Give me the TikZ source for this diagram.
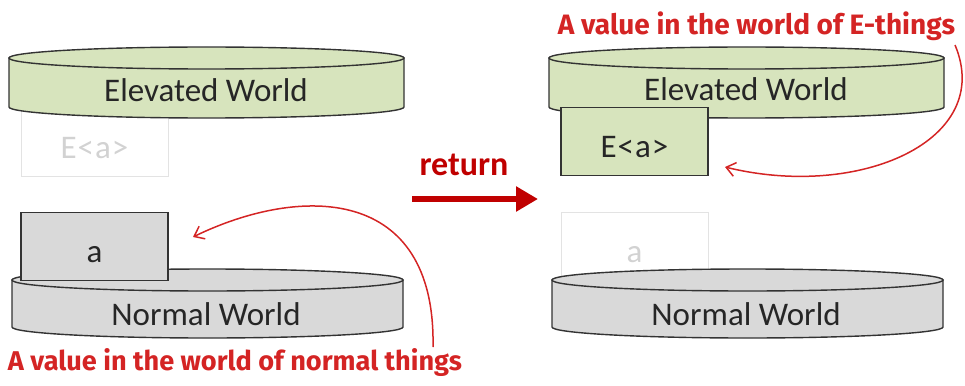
\documentclass[tikz,border=0pt]{standalone}
\usepackage{fontspec}
\setmainfont{Carlito}
\newfontfamily\handfont{Fira Sans}
\usetikzlibrary{arrows.meta}
\definecolor{elev}{HTML}{D7E4BD}
\definecolor{norm}{HTML}{D9D9D9}
\definecolor{edgecol}{HTML}{333333}
\definecolor{ghost}{HTML}{E3E3E3}
\definecolor{ghosttext}{HTML}{D2D2D2}
\definecolor{retred}{HTML}{C00000}
\definecolor{notered}{HTML}{D42424}
% a flat cylinder: centre x, half width, top y, bottom y, fill colour
\newcommand{\worlddisk}[5]{%
  \filldraw[fill=#5, draw=edgecol, line width=1.4pt]
    (#1-#2,#3) -- (#1-#2,#4)
    arc[start angle=180, end angle=360, x radius=#2pt, y radius=11pt]
    -- (#1+#2,#3) -- cycle;
  \filldraw[fill=#5, draw=edgecol, line width=1.4pt]
    (#1,#3) ellipse[x radius=#2pt, y radius=11pt];
}
% E<a> set with slightly wider angle brackets
\newcommand{\elevval}{E\kern1pt<\kern1pt a\kern1pt>}
\tikzset{
  worldlabel/.style={anchor=base, font=\fontsize{33}{40}\selectfont, text=black!85},
  valbox/.style={draw=edgecol, line width=1.4pt, minimum width=147pt, minimum height=68pt,
    inner sep=0pt, text height=40pt, text depth=8pt, font=\fontsize{33}{40}\selectfont, text=black!85},
  ghostbox/.style={valbox, draw=ghost, line width=1pt, text=ghosttext},
  note/.style={anchor=base, text=notered, font=\handfont\bfseries\fontsize{25}{30}\selectfont},
  notearrow/.style={draw=notered, line width=1.5pt, -{Straight Barb[length=9pt, width=14pt, line width=1.5pt]}},
}
\begin{document}
\begin{tikzpicture}[x=1pt, y=-1pt]
  \useasboundingbox (0,0) rectangle (965,385);

  % ---- left: before return ----
  \node[ghostbox] (ghostE) at (94.5,142) {\elevval};
  \worlddisk{206.5}{197.5}{58}{107}{elev}
  \node[worldlabel] (elevL) at (206,101.5) {Elevated World};
  \worlddisk{207.5}{195.5}{280}{327}{norm}
  \node[worldlabel] (normL) at (206,325) {Normal World};
  \node[valbox, fill=norm] (aval) at (94.5,246.5) {a};

  % ---- right: after return ----
  \node[ghostbox] (ghostA) at (634.5,246.5) {a};
  \worlddisk{746.5}{197.5}{58}{107}{elev}
  \node[worldlabel] (elevR) at (746,100.5) {Elevated World};
  \worlddisk{747.5}{195.5}{280}{327}{norm}
  \node[worldlabel] (normR) at (746,325) {Normal World};
  \node[valbox, fill=elev] (eval) at (634.5,141.5) {\elevval};

  % ---- the return arrow ----
  \node[anchor=base, text=retred, font=\bfseries\fontsize{34}{40}\selectfont] (ret) at (464,175) {return};
  \coordinate (retS) at (412,199);
  \coordinate (retE) at (538,199);
  \draw[retred, line width=6pt, -{Triangle[length=22pt, width=24pt]}] (retS) -- (retE);

  % ---- annotations ----
  \node[note] (noteN) at (235,370) {\resizebox{454pt}{!}{A value in the world of normal things}};
  \node[note] (noteE) at (756.5,35) {\resizebox{397pt}{!}{A value in the world of E-things}};

  \coordinate (noteNstart) at (433,347);
  \coordinate (aTip) at (193,237);
  \draw[notearrow] (noteNstart) .. controls (436,185) and (300,185) .. (aTip);

  \coordinate (noteEstart) at (955,45);
  \coordinate (eTip) at (725,167);
  \draw[notearrow] (noteEstart) .. controls (995,140) and (860,200) .. (eTip);
\end{tikzpicture}
\end{document}
